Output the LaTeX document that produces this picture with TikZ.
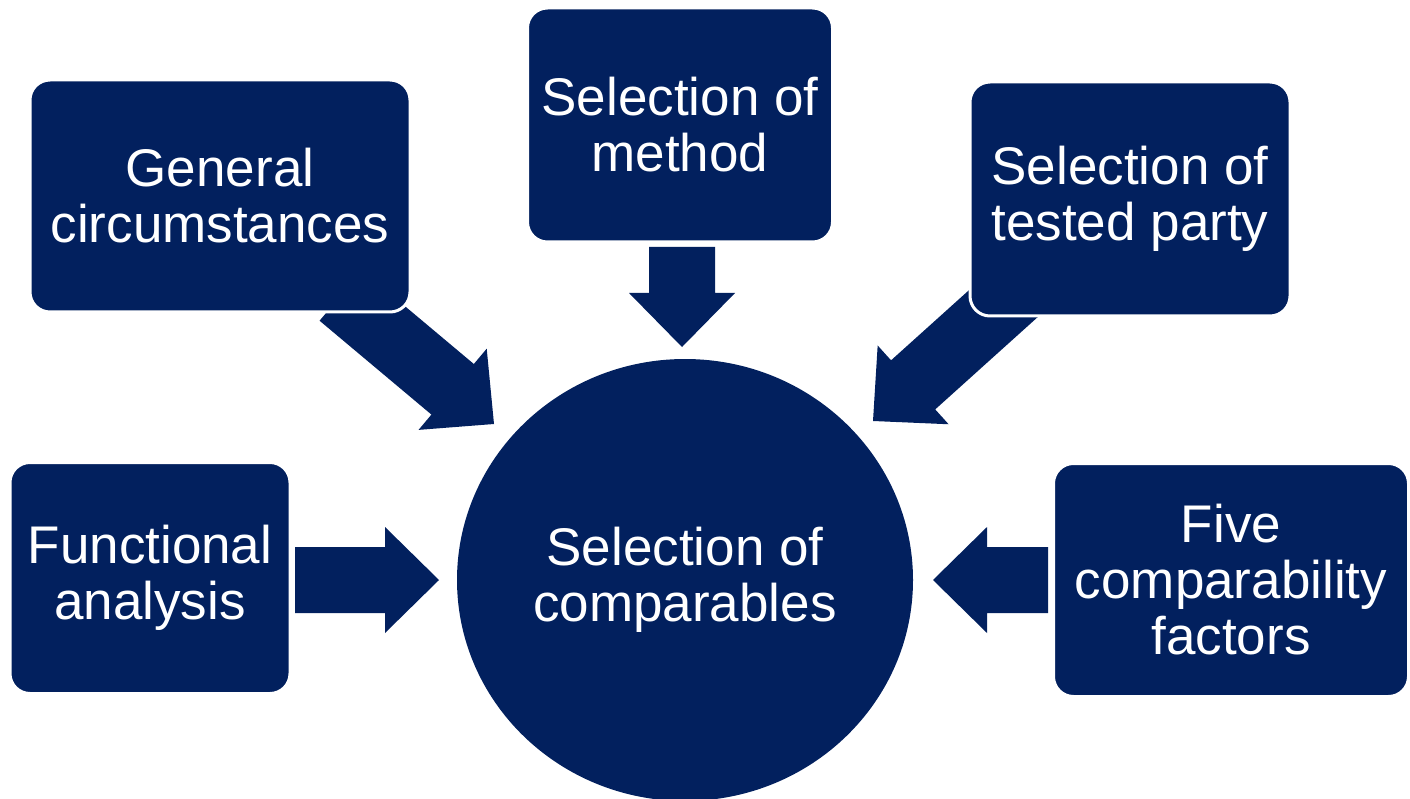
\documentclass[tikz,border=0pt]{standalone}
\usepackage{fontspec}
\setmainfont{Liberation Sans}
\usetikzlibrary{shapes.geometric}

\definecolor{navy}{RGB}{2,32,94}

\tikzset{
  box/.style={draw=white,line width=3pt,fill=navy,rounded corners=20pt,
    text=white,align=center,font=\fontsize{53}{56}\selectfont},
  hub/.style={ellipse,fill=navy,text=white,align=center,
    font=\fontsize{53}{56}\selectfont},
  pics/fatarrow/.style={code={
    \fill[navy] (0,0) -- (-54,53) -- (-54,33) -- (-#1,33) -- (-#1,-33)
      -- (-54,-33) -- (-54,-53) -- cycle;}}
}

\begin{document}
\begin{tikzpicture}[x=1pt,y=-1pt]
\clip (0,0) rectangle (1410,799);

% tips of the fat arrows
\coordinate (gtip) at (494,424);
\coordinate (mtip) at (682,347);
\coordinate (ttip) at (873,421);
\coordinate (ftip) at (439,580);
\coordinate (vtip) at (933,580);

\pic[rotate=-40] at (gtip) {fatarrow=200};
\pic[rotate=-90] at (mtip) {fatarrow=100};
\pic[rotate=-138] at (ttip) {fatarrow=200};
\pic at (ftip) {fatarrow=144};
\pic[rotate=180] at (vtip) {fatarrow=115};

% the five inputs
\node[box,minimum width=380pt,minimum height=232pt] (gen) at (220,196) {General\\circumstances};
\node[box,minimum width=305pt,minimum height=234pt] (meth) at (680,125) {Selection of\\method};
\node[box,minimum width=320pt,minimum height=234pt] (tested) at (1130,199) {Selection of\\tested party};
\node[box,minimum width=280pt,minimum height=231pt] (func) at (150,578) {Functional\\analysis};
\node[box,minimum width=355pt,minimum height=233pt] (five) at (1231,580) {Five\\comparability\\factors};

% centre
\node[hub,minimum width=456pt,minimum height=442pt] (comp) at (685,580) {Selection of\\comparables};
\end{tikzpicture}
\end{document}
